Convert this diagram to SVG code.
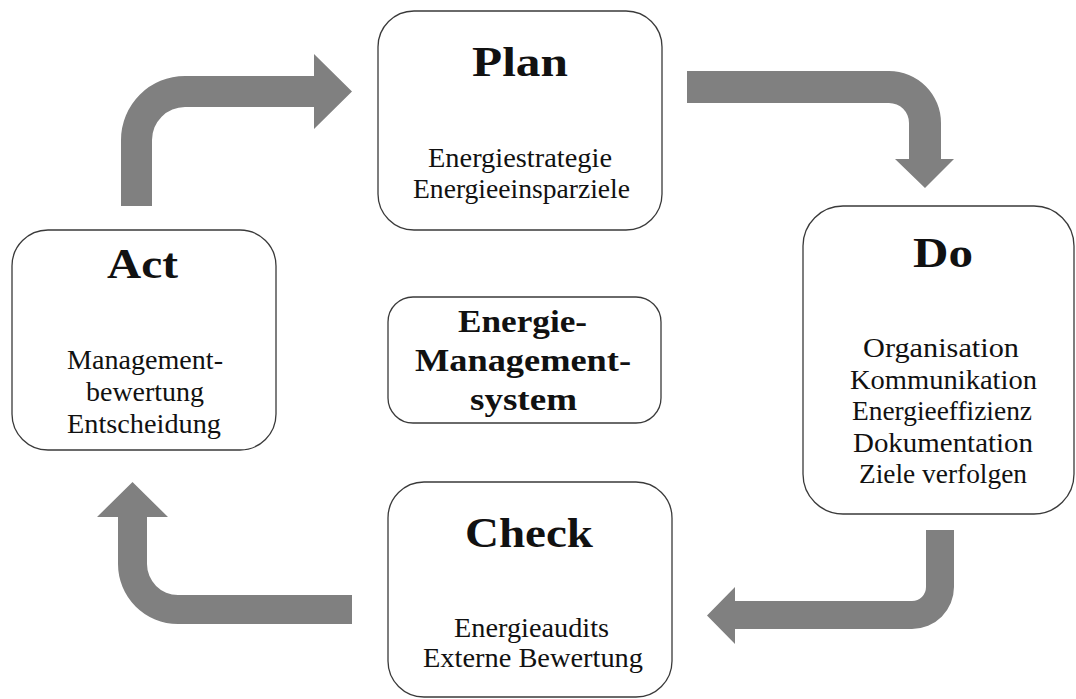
<svg xmlns="http://www.w3.org/2000/svg" width="1076" height="699" viewBox="0 0 1076 699">
<style>
.box{fill:#fff;stroke:#3a3a3a;stroke-width:1.3}
.arrow{fill:#808080;stroke:none}
.title{font-family:"Liberation Serif",serif;font-weight:bold;font-size:43px;fill:#111;text-anchor:middle}
.mid{font-family:"Liberation Serif",serif;font-weight:bold;font-size:31px;fill:#111;text-anchor:middle}
.body{font-family:"Liberation Serif",serif;font-size:27px;fill:#111;text-anchor:middle}
</style>
<rect width="1076" height="699" fill="#fff"/>
<g id="connectors">
<path class="arrow" d="M121,206 L121,140 A64,64 0 0 1 185,76 L314,76 L314,54 L352,91.5 L314,129 L314,107 L185,107 A33,33 0 0 0 152,140 L152,206 Z"/>
<path class="arrow" d="M687,71 L889,71 A52,52 0 0 1 941,123 L941,159 L954,159 L925,188 L895,159 L909,159 L909,123 A20,20 0 0 0 889,103 L687,103 Z"/>
<path class="arrow" d="M926,530 L954,530 L954,587 A42,42 0 0 1 912,629 L735,629 L735,644 L707,615.5 L735,587 L735,601 L912,601 A14,14 0 0 0 926,587 Z"/>
<path class="arrow" d="M352,595 L178,595 A31,31 0 0 1 147,564 L147,517 L168,517 L132.5,482 L97,517 L118,517 L118,564 A60,60 0 0 0 178,624 L352,624 Z"/>
</g>
<g id="plan">
<rect class="box" x="378" y="11" width="284" height="219" rx="36"/>
<text class="title" x="520" y="76" textLength="96" lengthAdjust="spacingAndGlyphs">Plan</text>
<text class="body" x="520" y="167" textLength="184" lengthAdjust="spacingAndGlyphs">Energiestrategie</text>
<text class="body" x="521.5" y="198" textLength="217" lengthAdjust="spacingAndGlyphs">Energieeinsparziele</text>
</g>
<g id="do">
<rect class="box" x="803" y="206" width="271" height="308" rx="40"/>
<text class="title" x="943" y="267" textLength="60" lengthAdjust="spacingAndGlyphs">Do</text>
<text class="body" x="941" y="357" textLength="156" lengthAdjust="spacingAndGlyphs">Organisation</text>
<text class="body" x="943.5" y="389" textLength="187" lengthAdjust="spacingAndGlyphs">Kommunikation</text>
<text class="body" x="942" y="420" textLength="180" lengthAdjust="spacingAndGlyphs">Energieeffizienz</text>
<text class="body" x="943" y="452" textLength="180" lengthAdjust="spacingAndGlyphs">Dokumentation</text>
<text class="body" x="943" y="483" textLength="168" lengthAdjust="spacingAndGlyphs">Ziele verfolgen</text>
</g>
<g id="check">
<rect class="box" x="388" y="482" width="284" height="215" rx="36"/>
<text class="title" x="529" y="547" textLength="128" lengthAdjust="spacingAndGlyphs">Check</text>
<text class="body" x="531.5" y="637" textLength="155" lengthAdjust="spacingAndGlyphs">Energieaudits</text>
<text class="body" x="533" y="667" textLength="220" lengthAdjust="spacingAndGlyphs">Externe Bewertung</text>
</g>
<g id="act">
<rect class="box" x="12" y="230" width="264" height="220" rx="36"/>
<text class="title" x="142.5" y="278" textLength="71" lengthAdjust="spacingAndGlyphs">Act</text>
<text class="body" x="145" y="369" textLength="156" lengthAdjust="spacingAndGlyphs">Management-</text>
<text class="body" x="145" y="401" textLength="118" lengthAdjust="spacingAndGlyphs">bewertung</text>
<text class="body" x="144" y="433" textLength="154" lengthAdjust="spacingAndGlyphs">Entscheidung</text>
</g>
<g id="ems">
<rect class="box" x="388" y="297" width="273" height="126" rx="25"/>
<text class="mid" x="522.5" y="332" textLength="129" lengthAdjust="spacingAndGlyphs">Energie-</text>
<text class="mid" x="523" y="371" textLength="216" lengthAdjust="spacingAndGlyphs">Management-</text>
<text class="mid" x="523.5" y="410" textLength="107" lengthAdjust="spacingAndGlyphs">system</text>
</g>
</svg>
